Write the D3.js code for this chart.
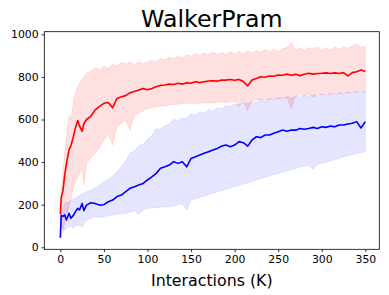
<!DOCTYPE html>
<html lang="en">
  <head>
    <style>
      html, body { margin: 0; padding: 0; background: #fff; }
      svg { display: block; }
      text { font-family: 'DejaVu Sans', sans-serif; }
    </style>
    <script src="https://d3js.org/d3.v7.min.js"></script>
  </head>
  <body>
    <svg width="389" height="295"></svg>

    <script>
      // interaction steps (K)
      var steps = [0, 1, 3, 5, 7, 10, 12, 15, 17, 20, 22, 25, 27, 30,
        35, 40, 45, 50, 55, 60, 65, 70, 75, 80, 85, 90, 95, 100, 105, 110, 115, 120,
        125, 130, 135, 140, 145, 150, 155, 160, 165, 170, 175, 180, 185, 190, 195, 200,
        205, 210, 215, 220, 225, 230, 235, 240, 245, 250, 255, 260, 265, 270, 275, 280,
        285, 290, 295, 300, 305, 310, 315, 320, 325, 330, 335, 340, 345, 350];

      var redMean = [155, 235, 265, 340, 390, 460, 475, 520, 555, 595, 570, 545, 580, 600,
        615, 645, 662, 676, 680, 655, 699, 707, 712, 726, 731, 738, 746, 740, 746, 754, 760, 762,
        766, 764, 770, 766, 773, 770, 777, 773, 777, 781, 782, 780, 785, 785, 788, 784,
        788, 778, 758, 785, 793, 801, 798, 804, 803, 809, 808, 813, 808, 812, 806, 812,
        817, 813, 816, 817, 819, 816, 819, 816, 820, 805, 820, 824, 832, 825];
      var redUpper = [160, 250, 360, 440, 520, 620, 600, 676, 720, 754, 770, 785, 800, 817,
        825, 845, 832, 850, 842, 858, 852, 868, 860, 872, 858, 870, 862, 868, 878, 872, 886, 880,
        892, 884, 898, 890, 904, 896, 910, 900, 912, 904, 916, 906, 914, 905, 918, 908,
        920, 910, 922, 912, 925, 915, 928, 918, 930, 920, 932, 938, 958, 926, 936, 924,
        938, 930, 940, 928, 936, 926, 940, 930, 942, 934, 948, 955, 938, 945];
      var redLower = [155, 100, 70, 110, 150, 190, 220, 280, 300, 330, 350, 370, 290, 394,
        420, 441, 470, 504, 530, 480, 565, 580, 598, 550, 620, 629, 640, 652, 655, 660, 662, 665,
        668, 670, 672, 674, 676, 676, 675, 678, 676, 680, 678, 680, 682, 680, 684, 684,
        660, 688, 640, 690, 691, 692, 694, 695, 697, 699, 702, 705, 650, 710, 715, 715,
        716, 705, 718, 716, 718, 720, 722, 720, 723, 725, 727, 728, 730, 731];

      var blueMean = [45, 150, 145, 152, 128, 160, 136, 150, 165, 183, 175, 206, 172, 198,
        209, 206, 198, 200, 214, 222, 238, 245, 261, 277, 284, 292, 300, 316, 331, 347, 371, 378,
        386, 402, 394, 402, 378, 417, 425, 433, 441, 449, 457, 464, 475, 480, 472, 480,
        496, 491, 475, 504, 519, 515, 527, 527, 535, 543, 551, 545, 551, 550, 558, 554,
        558, 563, 558, 566, 563, 569, 566, 574, 574, 579, 582, 590, 560, 590];
      var blueUpper = [150, 165, 180, 206, 210, 214, 220, 225, 230, 238, 245, 250, 255, 261,
        268, 280, 290, 310, 318, 335, 352, 380, 405, 445, 450, 478, 484, 508, 525, 556, 555, 572,
        576, 602, 594, 606, 608, 626, 622, 636, 630, 646, 640, 656, 650, 666, 660, 672,
        668, 680, 674, 686, 680, 692, 686, 698, 692, 704, 698, 708, 700, 712, 704, 714,
        706, 716, 710, 720, 712, 722, 716, 726, 720, 730, 724, 732, 726, 734];
      var blueLower = [45, 120, 90, 81, 90, 97, 100, 90, 100, 104, 100, 95, 110, 128,
        135, 144, 140, 144, 148, 151, 155, 157, 159, 165, 170, 155, 175, 183, 185, 186, 188, 189,
        190, 195, 200, 205, 175, 222, 228, 235, 240, 248, 253, 260, 266, 272, 278, 284,
        290, 297, 303, 310, 316, 322, 329, 335, 341, 347, 352, 358, 364, 370, 378, 380,
        384, 365, 390, 394, 400, 406, 412, 418, 425, 430, 435, 440, 445, 449];

      var xTicks = [0, 50, 100, 150, 200, 250, 300, 350];
      var yTicks = [0, 200, 400, 600, 800, 1000];

      var svg = d3.select('svg'),
        padL = 44.3, padR = 379.3, padT = 31.7, padB = 249.3;

      var x = d3.scaleLinear().domain([-18.4, 366.0]).range([padL, padR]);
      var y = d3.scaleLinear().domain([-9.4, 1012.2]).range([padB, padT]);

      var series = [
        { color: 'red', fillOpacity: 0.12, mean: redMean, lo: redLower, hi: redUpper },
        { color: 'blue', fillOpacity: 0.1, mean: blueMean, lo: blueLower, hi: blueUpper }
      ];

      var area = function(s) {
        return d3.area()
          .x(function(d, i) { return x(steps[i]); })
          .y0(function(d, i) { return y(s.lo[i]); })
          .y1(function(d, i) { return y(s.hi[i]); })(steps);
      };
      var line = function(s) {
        return d3.line()
          .x(function(d, i) { return x(steps[i]); })
          .y(function(d) { return y(d); })(s.mean);
      };

      series.forEach(function(s) {
        svg.append('path')
          .attr('d', area(s))
          .attr('fill', s.color)
          .attr('fill-opacity', s.fillOpacity)
          .attr('stroke', s.color)
          .attr('stroke-opacity', s.fillOpacity)
          .attr('stroke-width', 0.8);
      });
      series.forEach(function(s) {
        svg.append('path')
          .attr('d', line(s))
          .attr('fill', 'none')
          .attr('stroke', s.color)
          .attr('stroke-width', 1.6)
          .attr('stroke-linejoin', 'round');
      });

      var xAxis = svg.append('g')
        .attr('transform', 'translate(0,' + padB + ')')
        .call(d3.axisBottom(x).tickValues(xTicks).tickFormat(d3.format('d'))
          .tickSize(2.8).tickPadding(2.8));
      var yAxis = svg.append('g')
        .attr('transform', 'translate(' + padL + ',0)')
        .call(d3.axisLeft(y).tickValues(yTicks).tickFormat(d3.format('d'))
          .tickSize(2.8).tickPadding(2.8));

      [xAxis, yAxis].forEach(function(g) {
        g.select('.domain').remove();
        g.selectAll('text')
          .attr('font-family', 'DejaVu Sans')
          .attr('font-size', 10.9)
          .attr('fill', '#000');
        g.selectAll('line').attr('stroke', '#000').attr('stroke-width', 0.8);
      });

      svg.append('rect')
        .attr('x', padL).attr('y', padT)
        .attr('width', padR - padL).attr('height', padB - padT)
        .attr('fill', 'none')
        .attr('stroke', '#000')
        .attr('stroke-width', 0.8);

      svg.append('text')
        .attr('x', (padL + padR) / 2).attr('y', 27)
        .attr('text-anchor', 'middle')
        .attr('font-size', 23.7)
        .text('WalkerPram');

      svg.append('text')
        .attr('x', (padL + padR) / 2).attr('y', 285.8)
        .attr('text-anchor', 'middle')
        .attr('font-size', 15.8)
        .text('Interactions (K)');
    </script>
  </body>
</html>
